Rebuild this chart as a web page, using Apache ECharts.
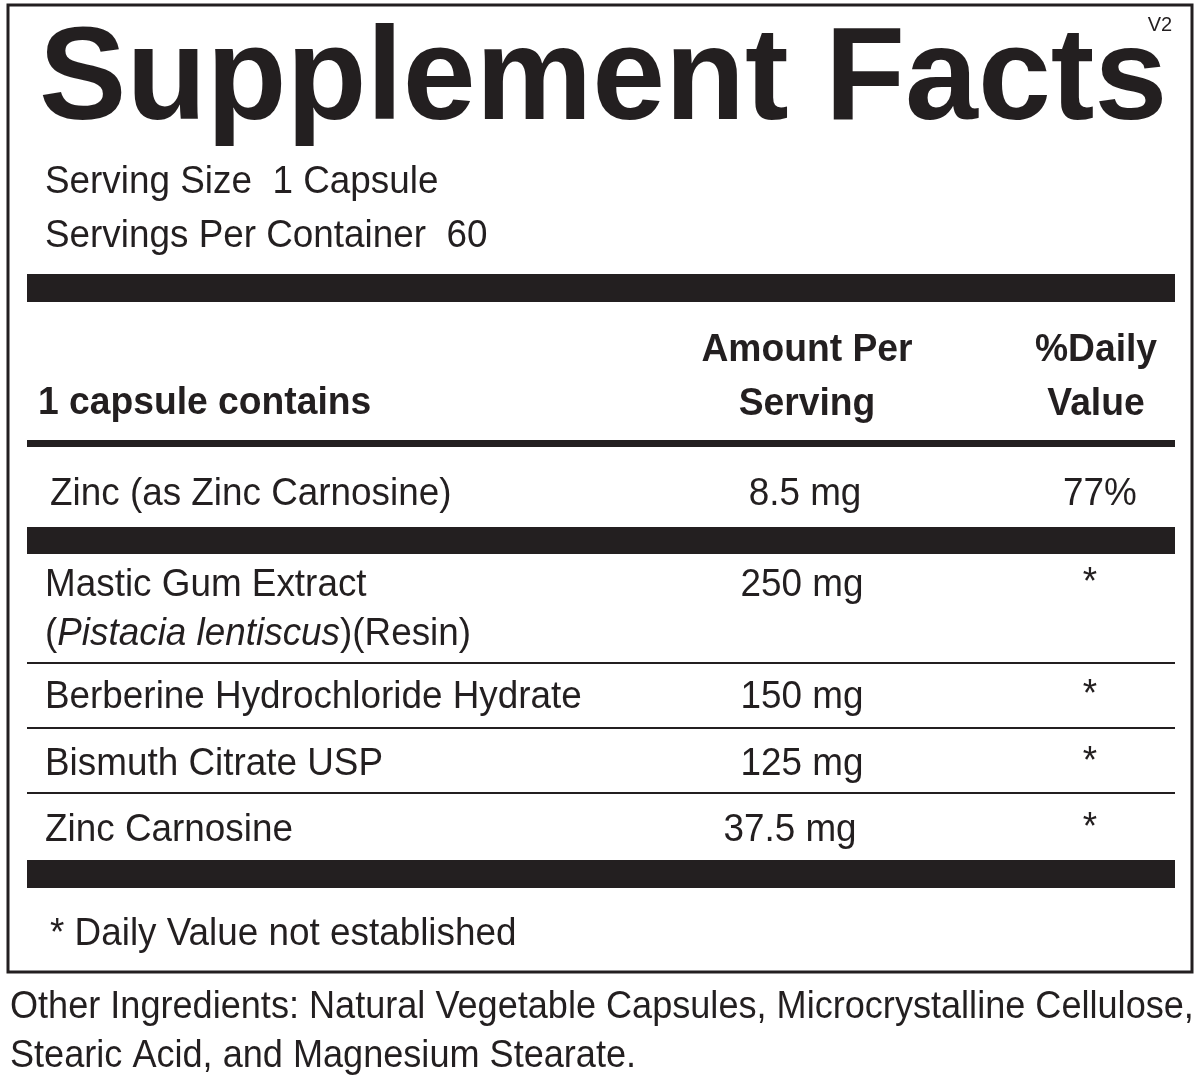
<!DOCTYPE html>
<html><head><meta charset="utf-8">
<script src="https://cdn.jsdelivr.net/npm/echarts@6/dist/echarts.min.js"></script>
<style>html,body{margin:0;padding:0;background:#fff}#c{width:1200px;height:1091px}</style>
</head><body><div id="c"></div>
<script>
const title = "Supplement Facts";
const servingLines = ["Serving Size  1 Capsule", "Servings Per Container  60"];
const headers = ["1 capsule contains", "Amount Per\nServing", "%Daily\nValue"];
const firstRow = ["Zinc (as Zinc Carnosine)", "8.5 mg", "77%"];
const names = ["Mastic Gum Extract\n({i|Pistacia lentiscus})(Resin)", "Berberine Hydrochloride Hydrate", "Bismuth Citrate USP", "Zinc Carnosine"];
const amounts = ["250 mg", "150 mg", "125 mg", "37.5 mg"];
const dvs = ["*", "*", "*", "*"];
const footnote = "* Daily Value not established";
const otherLines = ["Other Ingredients: Natural Vegetable Capsules, Microcrystalline Cellulose,", "Stearic Acid, and Magnesium Stearate."];

const F = 'Liberation Sans, Arial, sans-serif';
const SX = 0.97;
function t(x, y, text, o) {
  o = o || {};
  return {type:'text', x:x, y:y + 3, scaleX:o.sx||SX, style:{text:text, font:(o.bold?'bold ':'')+(o.size||38)+'px '+F, fill:'#231f20', textAlign:o.align||'left', textVerticalAlign:'middle', lineHeight:o.lh||50, rich:{i:{fontStyle:'italic', fontSize:38, fontFamily:F, fill:'#231f20'}}}};
}
function bar(y, h) { return {type:'rect', shape:{x:27, y:y, width:1148, height:h}, style:{fill:'#231f20'}}; }

const g = [];
g.push({type:'rect', shape:{x:8, y:5, width:1184, height:967}, style:{fill:'none', stroke:'#231f20', lineWidth:3}});
g.push(t(1160, 22, 'V2', {size:20, sx:1, align:'center'}));
g.push(t(39, 80, title, {size:131, bold:true, sx:1}));
servingLines.forEach((s, i) => g.push(t(45, 180 + i*54, s)));
g.push(bar(274, 28));
g.push(t(38, 401, headers[0], {bold:true, sx:0.98}));
g.push(t(807, 375, headers[1], {bold:true, align:'center', lh:54, sx:0.98}));
g.push(t(1096, 375, headers[2], {bold:true, align:'center', lh:54, sx:0.98}));
g.push(bar(440, 7));
g.push(t(50, 492, firstRow[0]));
g.push(t(805, 492, firstRow[1], {align:'center'}));
g.push(t(1100, 492, firstRow[2], {align:'center'}));
g.push(bar(527, 27));
const ay = [583, 695, 762, 828];
const ac = [802, 802, 802, 790];
names.forEach((n, i) => {
  g.push(t(45, i === 0 ? 607 : ay[i], n, {lh:49}));
  g.push(t(ac[i], ay[i], amounts[i], {align:'center'}));
  g.push(t(1090, ay[i] - 2, dvs[i], {align:'center'}));
});
[663, 728, 793].forEach(y => g.push(bar(y - 1, 2)));
g.push(bar(860, 28));
g.push(t(50, 932, footnote));
otherLines.forEach((s, i) => g.push(t(10, 1005 + i*49, s, {sx:0.95})));

const chart = echarts.init(document.getElementById('c'));
chart.setOption({animation:false, graphic:g});
</script></body></html>
